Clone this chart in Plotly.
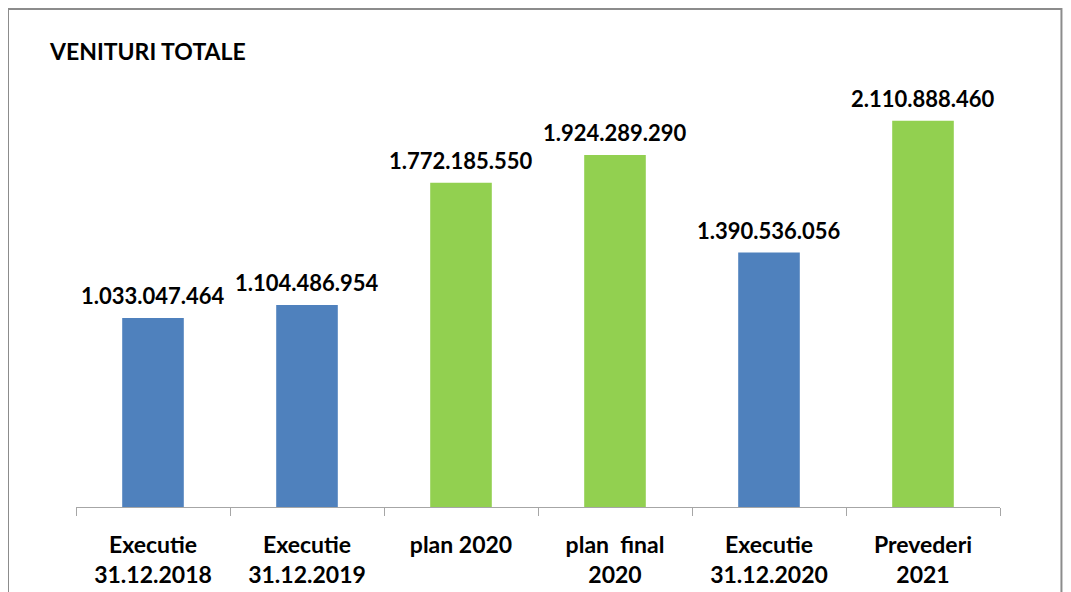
import plotly.graph_objects as go

categories = [
    "Executie<br>31.12.2018",
    "Executie<br>31.12.2019",
    "plan 2020",
    "plan\u00a0 final<br>2020",
    "Executie<br>31.12.2020",
    "Prevederi<br>2021",
]
values = [1033047464, 1104486954, 1772185550, 1924289290, 1390536056, 2110888460]
kinds = ["exec", "exec", "plan", "plan", "exec", "plan"]

COLORS = {"exec": "#4F81BD", "plan": "#92D050"}


def fmt(v):
    return f"{v:,}".replace(",", ".")


fig = go.Figure(go.Bar(
    x=categories,
    y=values,
    marker=dict(color=[COLORS[k] for k in kinds], line=dict(width=0)),
    hovertemplate="%{y:,}<extra></extra>",
))

# value labels above the bars
labels = [
    dict(
        x=c, y=v, text=f"<b>{fmt(v)}</b>",
        xref="x", yref="y", showarrow=False,
        yanchor="bottom", yshift=7,
        font=dict(family="Lato, sans-serif", size=22, color="#000000"),
    )
    for c, v in zip(categories, values)
]

fig.update_layout(
    width=1071,
    height=592,
    margin=dict(l=68, r=79, t=22, b=93),
    paper_bgcolor="white",
    plot_bgcolor="white",
    bargap=0.6,
    showlegend=False,
    font=dict(family="Lato, sans-serif", color="#000000"),
    annotations=labels + [dict(
        text="<b>VENITURI TOTALE</b>",
        xref="paper", yref="paper",
        x=-0.031, y=0.955,
        xanchor="left", yanchor="middle",
        showarrow=False,
        font=dict(size=23, color="#000000"),
    )],
    shapes=[dict(
        type="rect", xref="paper", yref="paper",
        x0=-0.0736, x1=1.0665, y0=-0.4, y1=1.044,
        line=dict(color="#8C8C8C", width=2),
        fillcolor="rgba(0,0,0,0)",
        layer="below",
    )],
)

fig.update_xaxes(
    showline=True,
    linecolor="#A6A6A6",
    linewidth=1,
    ticks="outside",
    tickson="boundaries",
    ticklen=8,
    tickcolor="#A6A6A6",
    ticklabelstandoff=17,
    tickfont=dict(size=23, family="Lato, sans-serif", color="#000000", weight="bold"),
    showgrid=False,
)
fig.update_yaxes(
    range=[0, 2.607e9],
    visible=False,
    showgrid=False,
)

fig.write_html("out.html")
